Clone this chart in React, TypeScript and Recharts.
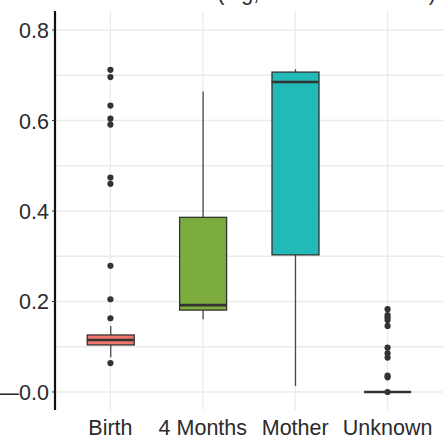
import React from 'react';
import {
  ComposedChart, Bar, Scatter, XAxis, YAxis, CartesianGrid,
} from 'recharts';

// ---- data ----
const categories = ['Birth', '4 Months', 'Mother', 'Unknown'];
const positions = [1, 2, 3, 4];
const q1Values = [0.104, 0.181, 0.303, 0];
const medianValues = [0.115, 0.192, 0.685, 0];
const q3Values = [0.126, 0.386, 0.707, 0];
const whiskerLow = [0.077, 0.161, 0.013, 0];
const whiskerHigh = [0.146, 0.664, 0.713, 0];
const boxColors = ['#F1746D', '#7CAB3E', '#21BAB7', '#C77CFF'];

const outliersBirth = [0.064, 0.163, 0.205, 0.279, 0.460, 0.474, 0.591, 0.604, 0.633, 0.696, 0.712];
const outliersUnknown = [0, 0.0325, 0.036, 0.076, 0.0855, 0.098, 0.146, 0.159, 0.165, 0.170, 0.183];

const yTicks = [0, 0.2, 0.4, 0.6, 0.8];
const yGrid = [0, 0.1, 0.2, 0.3, 0.4, 0.5, 0.6, 0.7, 0.8];
const yDomain = [-0.0398, 0.842];
const xDomain = [0.4, 4.6];

const titleText = 'Relative abundance (log, normalized count)';

// table built from the arrays
const summary = categories.map((name, i) => ({
  name,
  x: positions[i],
  box: [q1Values[i], q3Values[i]],
  whisker: [whiskerLow[i], whiskerHigh[i]],
  median: medianValues[i],
  color: boxColors[i],
}));

const outlierPoints = [
  ...outliersBirth.map((v) => ({ x: positions[0], v })),
  ...outliersUnknown.map((v) => ({ x: positions[3], v })),
];

const FONT = '"Liberation Sans", Arial, sans-serif';
const TEXT = '#2b2b2b';
const GRID = '#EBEBEB';

const BOX_W = 47;
const X_LABEL_BASELINE = 435;

const BoxShape = (p: any) => {
  const { x, y, width, height, payload } = p;
  if (x == null || isNaN(x)) return null;
  const cx = x + width / 2;
  return (
    <rect
      x={cx - BOX_W / 2}
      y={y}
      width={BOX_W}
      height={Math.max(0, height)}
      fill={payload.color}
      stroke="#333333"
      strokeWidth={1.3}
    />
  );
};

const WhiskerShape = (p: any) => {
  const { x, y, width, height } = p;
  if (x == null || isNaN(x) || !height) return null;
  const cx = x + width / 2;
  return <line x1={cx} x2={cx} y1={y} y2={y + height} stroke="#4a4a4a" strokeWidth={1.3} />;
};

const MedianShape = (p: any) => {
  const { cx, cy } = p;
  if (cx == null || isNaN(cy)) return null;
  return (
    <line x1={cx - BOX_W / 2} x2={cx + BOX_W / 2} y1={cy} y2={cy} stroke="#333333" strokeWidth={2.6} />
  );
};

const DotShape = (p: any) => {
  const { cx, cy } = p;
  if (cx == null || isNaN(cy)) return null;
  return <circle cx={cx} cy={cy} r={3.1} fill="#333333" />;
};

const XTick = (p: any) => {
  const { x, payload } = p;
  const idx = positions.indexOf(payload.value);
  return (
    <text x={x} y={X_LABEL_BASELINE} textAnchor="middle" fill={TEXT} fontSize={21.5} fontFamily={FONT}>
      {idx >= 0 ? categories[idx] : ''}
    </text>
  );
};

const YTick = (p: any) => {
  const { x, y, payload } = p;
  const v = payload.value;
  const label = v === 0 ? '\u20140.0' : v.toFixed(1);
  return (
    <text x={x} y={y} dy={8} textAnchor="end" fill={TEXT} fontSize={21.5} fontFamily={FONT}>
      {label}
    </text>
  );
};

export default function App() {
  return (
    <div style={{ position: 'absolute', left: 0, top: 0, width: 443, height: 439, background: '#fff', overflow: 'hidden' }}>
      <svg width={443} height={12} style={{ position: 'absolute', left: 0, top: 0 }}>
        <text x={436} y={0} textAnchor="end" fill={TEXT} fontSize={21.5} fontFamily={FONT}>
          {titleText}
        </text>
      </svg>
      <ComposedChart
        width={443}
        height={439}
        data={summary}
        margin={{ top: 11, right: 0, bottom: 0, left: 0 }}
      >
        <CartesianGrid
          xAxisId="main"
          stroke={GRID}
          strokeWidth={1.3}
          horizontalValues={yGrid}
          verticalValues={positions}
        />
        <XAxis
          xAxisId="main"
          dataKey="x"
          type="number"
          domain={xDomain}
          ticks={positions}
          allowDataOverflow
          tick={<XTick />}
          tickLine={false}
          tickSize={0}
          tickMargin={0}
          height={29}
          axisLine={{ stroke: '#111', strokeWidth: 2.2 }}
        />
        <XAxis xAxisId="box" dataKey="x" type="number" domain={xDomain} allowDataOverflow hide />
        <XAxis xAxisId="wh" dataKey="x" type="number" domain={xDomain} allowDataOverflow hide />
        <YAxis
          type="number"
          domain={yDomain}
          ticks={yTicks}
          allowDataOverflow
          width={55}
          tick={<YTick />}
          tickSize={3}
          tickMargin={3}
          tickLine={{ stroke: '#333' }}
          axisLine={{ stroke: '#111', strokeWidth: 2.2 }}
        />
        <Bar xAxisId="wh" dataKey="whisker" barSize={BOX_W} shape={<WhiskerShape />} isAnimationActive={false} />
        <Bar xAxisId="box" dataKey="box" barSize={BOX_W} shape={<BoxShape />} isAnimationActive={false} />
        <Scatter xAxisId="main" data={summary} dataKey="median" shape={<MedianShape />} isAnimationActive={false} />
        <Scatter xAxisId="main" data={outlierPoints} dataKey="v" shape={<DotShape />} isAnimationActive={false} />
      </ComposedChart>
    </div>
  );
}
